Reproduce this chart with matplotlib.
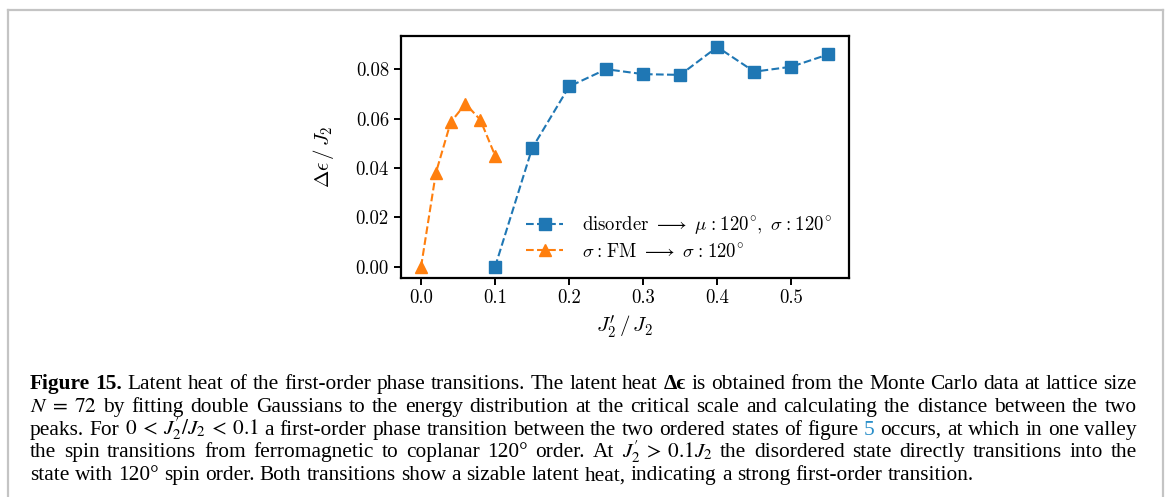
import re

import matplotlib
matplotlib.use("Agg")
import matplotlib.pyplot as plt
from matplotlib.lines import Line2D

# latent heat, disorder -> 120 deg order
dis_x = [0.10, 0.15, 0.20, 0.25, 0.30, 0.35, 0.40, 0.45, 0.50, 0.55]
dis_y = [0.000, 0.048, 0.073, 0.080, 0.078, 0.0777, 0.089, 0.079, 0.081, 0.086]
# latent heat, sigma: FM -> sigma: 120 deg
fm_x = [0.00, 0.02, 0.04, 0.06, 0.08, 0.10]
fm_y = [0.000, 0.038, 0.0585, 0.066, 0.0595, 0.045]

xticks = [0.0, 0.1, 0.2, 0.3, 0.4, 0.5]
yticks = [0.00, 0.02, 0.04, 0.06, 0.08]

dis_label = r"disorder$\ \longrightarrow\ \mu\:\!:\:\!120^{\!\circ}\!,\ \sigma\:\!:\:\!120^{\!\circ}$"
fm_label = r"$\sigma\:\!:\:\!\mathrm{FM}\ \longrightarrow\ \sigma\:\!:\:\!120^{\!\circ}$"

caption = [
    [("Figure 15.", "bf"), ("Latent heat of the first-order phase transitions. The latent heat", "rm"),
     ("Δϵ", "bf"), ("is obtained from the Monte Carlo data at lattice size", "rm")],
    [(r"$N\;=\;72$ by fitting double Gaussians to the energy distribution at the critical scale and "
      "calculating the distance between the two", "rm")],
    [(r"peaks. For $0\:<\:J_2'/J_2\:<\:0.1$ a first-order phase transition between the two ordered "
      "states of figure", "rm"), ("5", "link"), ("occurs, at which in one valley", "rm")],
    [(r"the spin transitions from ferromagnetic to coplanar 120° order. At $J_2'\:>\:0.1J_2$ "
      "the disordered state directly transitions into the", "rm")],
    [("state with 120° spin order. Both transitions show a sizable latent heat, indicating "
      "a strong first-order transition.", "rm")],
]

plt.rcParams.update({
    "font.family": "serif",
    "font.serif": ["cmr10"],
    "mathtext.fontset": "cm",
    "axes.formatter.use_mathtext": True,
})

W, H = 1167, 497
fig = plt.figure(figsize=(W / 100, H / 100), dpi=100)

# grey frame around the figure block
for xs, ys in [([7.5, 7.5], [0, H - 9.5]), ([7.5, W - 4.5], [H - 9.5, H - 9.5]), ([W - 4.5, W - 4.5], [0, H - 9.5])]:
    fig.add_artist(Line2D([x / W for x in xs], [y / H for y in ys], color="#c4c4c4", lw=1.6))

ax = fig.add_axes([400.7 / W, 1 - 277.7 / H, 448 / W, 241.7 / H])
ax.plot(dis_x, dis_y, ls="--", marker="s", color="#1f77b4", ms=8, lw=1.5, label=dis_label)
ax.plot(fm_x, fm_y, ls="--", marker="^", color="#ff7f0e", ms=8.5, lw=1.5, label=fm_label)
ax.set_xticks(xticks)
ax.set_yticks(yticks)
ax.set_xticklabels([f"{v:.1f}" for v in xticks])
ax.set_yticklabels([f"{v:.2f}" for v in yticks])
ax.tick_params(labelsize=13.5, width=1.4, length=5)
for sp in ax.spines.values():
    sp.set_linewidth(1.6)
ax.set_xlabel(r"$J_2'\,/\,J_2$", fontsize=15, labelpad=4)
ax.set_ylabel(r"$\Delta\epsilon\,/\,J_2$", fontsize=15, labelpad=14)
ax.legend(loc="lower right", frameon=False, fontsize=13.5, handlelength=2.0,
          borderaxespad=0.5, labelspacing=0.35, handletextpad=1.0)

# caption, set word by word so that full lines are justified
cap_size = 15.4
x0, x1 = 30, 1137
base0, pitch = 389, 22.8
renderer = fig.canvas.get_renderer()
styles = {"rm": dict(color="black"), "bf": dict(color="black", fontweight="bold"),
          "link": dict(color="#2a8fc9")}
for i, line in enumerate(caption):
    words = []
    for text, kind in line:
        for tok in re.findall(r"\$[^$]*\$\S*|\S+", text):
            words.append((tok, kind))
    y = 1 - (base0 + i * pitch) / H
    arts = []
    for tok, kind in words:
        t = fig.text(0, y, tok, fontsize=cap_size, family=["Liberation Serif", "DejaVu Serif"],
                     math_fontfamily="stix", va="baseline", ha="left", **styles[kind])
        arts.append(t)
    widths = [a.get_window_extent(renderer).width for a in arts]
    if i < len(caption) - 1:
        gap = (x1 - x0 - sum(widths)) / (len(arts) - 1)
    else:
        gap = cap_size * 100 / 72 * 0.25
    x = x0
    for a, w in zip(arts, widths):
        a.set_x(x / W)
        x += w + gap

fig.savefig("out.png", dpi=100)
